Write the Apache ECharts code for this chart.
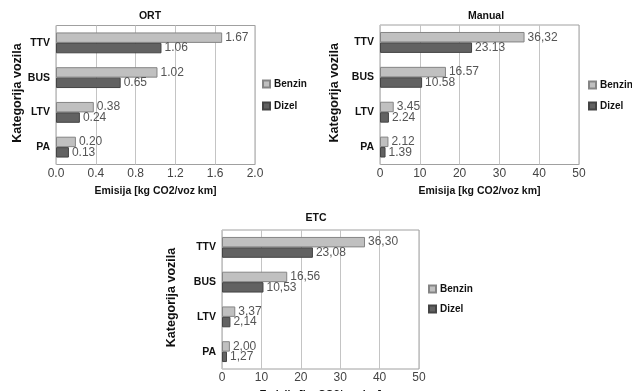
<!DOCTYPE html>
<html>
<head>
<meta charset="utf-8">
<script src="https://cdn.jsdelivr.net/npm/echarts@6/dist/echarts.min.js"></script>
<style>
  html, body { margin: 0; padding: 0; background: #fff; }
  #chart { width: 632px; height: 391px; }
</style>
</head>
<body>
<div id="chart"></div>
<script>
// Vehicle categories (top to bottom)
const categories = ['TTV', 'BUS', 'LTV', 'PA'];
const seriesNames = ['Benzin', 'Dizel'];

// Emissions per method [kg CO2 / voz km]
const ortBenzin = [1.67, 1.02, 0.38, 0.20];
const ortDizel = [1.06, 0.65, 0.24, 0.13];
const manualBenzin = [36.32, 16.57, 3.45, 2.12];
const manualDizel = [23.13, 10.58, 2.24, 1.39];
const etcBenzin = [36.30, 16.56, 3.37, 2.00];
const etcDizel = [23.08, 10.53, 2.14, 1.27];

// Decimal separators as printed on each value label
const ortBenzinSep = ['.', '.', '.', '.'];
const ortDizelSep = ['.', '.', '.', '.'];
const manualBenzinSep = [',', '.', '.', '.'];
const manualDizelSep = ['.', '.', '.', '.'];
const etcBenzinSep = [',', ',', ',', ','];
const etcDizelSep = [',', ',', ',', ','];

// Panel titles and axis text
const panelTitles = ['ORT', 'Manual', 'ETC'];
const xAxisTitle = 'Emisija [kg CO2/voz km]';
const yAxisTitle = 'Kategorija vozila';
const ortTicks = { min: 0, max: 2, interval: 0.4, decimals: 1 };
const bigTicks = { min: 0, max: 50, interval: 10, decimals: 0 };

const panels = [
  { title: panelTitles[0], benzin: ortBenzin, dizel: ortDizel, bSep: ortBenzinSep, dSep: ortDizelSep, ticks: ortTicks,
    grid: { left: 56, top: 25.5, width: 199, height: 139 }, titleX: 150, titleY: 11,
    yTitleX: 18, legend: { left: 262, top: 79, gap: 12 } },
  { title: panelTitles[1], benzin: manualBenzin, dizel: manualDizel, bSep: manualBenzinSep, dSep: manualDizelSep, ticks: bigTicks,
    grid: { left: 380, top: 25, width: 199, height: 139.5 }, titleX: 486, titleY: 11,
    yTitleX: 335, legend: { left: 588, top: 80, gap: 11 } },
  { title: panelTitles[2], benzin: etcBenzin, dizel: etcDizel, bSep: etcBenzinSep, dSep: etcDizelSep, ticks: bigTicks,
    grid: { left: 222, top: 230, width: 197, height: 139 }, titleX: 316, titleY: 213,
    yTitleX: 172, legend: { left: 428, top: 284, gap: 10 } }
];

const colors = {
  Benzin: { fill: '#c0c0c0', border: '#858585' },
  Dizel: { fill: '#626262', border: '#444444' }
};

const boldFont = '"Liberation Sans", Arial, sans-serif';
const plainFont = '"Liberation Sans Narrow", "Liberation Sans", Arial, sans-serif';

const option = {
  backgroundColor: '#ffffff',
  animation: false,
  title: [],
  legend: [],
  grid: [],
  xAxis: [],
  yAxis: [],
  series: [],
  graphic: []
};

panels.forEach((p, i) => {
  option.title.push({
    text: p.title, left: p.titleX, top: p.titleY, textAlign: 'center', padding: 0,
    textStyle: { fontFamily: boldFont, fontWeight: 'bold', fontSize: 10.5, color: '#111' }
  });
  option.grid.push(Object.assign({
    show: true, borderColor: '#a0a0a0', borderWidth: 1, backgroundColor: '#fff',
    containLabel: false, outerBoundsMode: 'none'
  }, p.grid));
  option.xAxis.push({
    type: 'value', gridIndex: i,
    min: p.ticks.min, max: p.ticks.max, interval: p.ticks.interval,
    axisLine: { show: false }, axisTick: { show: false },
    splitLine: { show: true, lineStyle: { color: '#c4c4c4', width: 1 } },
    axisLabel: {
      margin: 3, color: '#444', fontFamily: plainFont, fontSize: 12,
      formatter: v => v.toFixed(p.ticks.decimals)
    },
    name: xAxisTitle, nameLocation: 'middle', nameGap: 21,
    nameTextStyle: { fontFamily: boldFont, fontWeight: 'bold', fontSize: 10.5, color: '#111' }
  });
  option.yAxis.push({
    type: 'category', gridIndex: i, data: categories, inverse: true,
    axisLine: { show: false }, axisTick: { show: false },
    splitLine: { show: false },
    axisLabel: { margin: 6, color: '#111', fontFamily: boldFont, fontWeight: 'bold', fontSize: 10.5 }
  });
  // vertical axis title
  option.graphic.push({
    type: 'text', x: p.yTitleX, y: p.grid.top + p.grid.height / 2 - 2, rotation: Math.PI / 2,
    style: {
      text: yAxisTitle, fill: '#111', font: 'bold 12.5px ' + boldFont,
      textAlign: 'center', textVerticalAlign: 'middle'
    }
  });
  option.legend.push({
    data: seriesNames, orient: 'vertical', left: p.legend.left, top: p.legend.top,
    padding: 0, icon: 'rect', itemWidth: 7, itemHeight: 7, itemGap: p.legend.gap,
    textStyle: { fontFamily: boldFont, fontWeight: 'bold', fontSize: 10, color: '#111', padding: [0, 0, 0, -1] },
    selectedMode: false
  });
  [['Benzin', p.benzin, p.bSep], ['Dizel', p.dizel, p.dSep]].forEach(([name, vals, seps]) => {
    option.series.push({
      type: 'bar', name: name, xAxisIndex: i, yAxisIndex: i,
      data: vals, barGap: '0%', barCategoryGap: '40%',
      itemStyle: { color: colors[name].fill, borderColor: colors[name].border, borderWidth: 1 },
      label: {
        show: true, position: 'right', distance: 3,
        color: '#555', fontFamily: plainFont, fontSize: 12,
        formatter: prm => prm.value.toFixed(2).replace('.', seps[prm.dataIndex])
      }
    });
  });
});

const chart = echarts.init(document.getElementById('chart'), null, { renderer: 'canvas' });
chart.setOption(option);
</script>
</body>
</html>
